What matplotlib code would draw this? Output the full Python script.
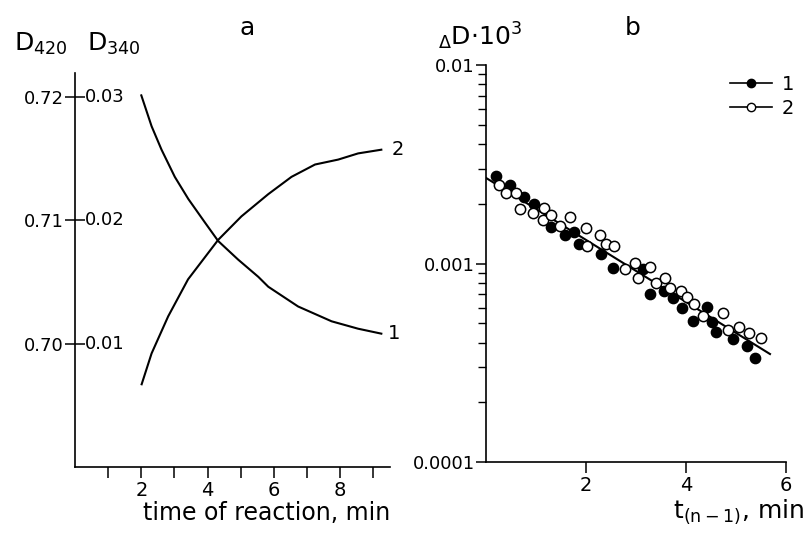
import matplotlib
matplotlib.use('Agg')
import matplotlib.pyplot as plt
from matplotlib.lines import Line2D
from matplotlib.ticker import FixedLocator, NullFormatter

plt.rcParams['font.family'] = ['DejaVu Sans']
plt.rcParams['mathtext.fontset'] = 'dejavusans'

# panel a: optical density vs time (plotted in D340 units)
t1 = [2.0, 2.31, 2.61, 3.01, 3.42, 3.92, 4.32, 4.92, 5.53, 5.83, 6.73, 7.74, 8.54, 9.24]
d1 = [0.0301, 0.0276, 0.0257, 0.0235, 0.0217, 0.0198, 0.0183, 0.0168, 0.0154, 0.0146,
      0.0130, 0.0118, 0.0112, 0.0108]
t2 = [2.01, 2.31, 2.81, 3.41, 4.32, 5.02, 5.83, 6.53, 7.24, 7.94, 8.54, 9.24]
d2 = [0.0067, 0.0092, 0.0122, 0.0152, 0.0184, 0.0203, 0.0221, 0.0235, 0.0245, 0.0249,
      0.0254, 0.0257]
ytick_pos = [0.03, 0.02, 0.01]
d420_labels = ['0.72', '0.71', '0.70']
d340_labels = ['0.03', '0.02', '0.01']

# panel b: semilog plot
x_fill = [0.20, 0.47, 0.76, 0.95, 1.29, 1.57, 1.75, 1.86, 2.29, 2.53, 3.13, 3.27, 3.55, 3.73,
          3.93, 4.15, 4.42, 4.53, 4.61, 4.94, 5.23, 5.39]
y_fill = [0.00277, 0.00248, 0.00216, 0.00200, 0.00153, 0.00139, 0.00144, 0.00126, 0.00112,
          0.000946, 0.000935, 0.000700, 0.000730, 0.000668, 0.000599, 0.000513, 0.000606,
          0.000509, 0.000453, 0.000417, 0.000384, 0.000335]
x_open = [0.26, 0.39, 0.59, 0.67, 0.94, 1.15, 1.13, 1.30, 1.48, 1.67, 1.99, 2.01, 2.27, 2.39,
          2.56, 2.77, 2.98, 3.03, 3.28, 3.39, 3.57, 3.68, 3.90, 4.03, 4.16, 4.35, 4.74, 4.85,
          5.07, 5.26, 5.51]
y_open = [0.00248, 0.00226, 0.00227, 0.00189, 0.00180, 0.00190, 0.00166, 0.00175, 0.00155,
          0.00171, 0.00151, 0.00123, 0.00139, 0.00126, 0.00122, 0.000935, 0.00101, 0.000842,
          0.000957, 0.000800, 0.000848, 0.000750, 0.000730, 0.000681, 0.000625, 0.000544,
          0.000561, 0.000462, 0.000477, 0.000448, 0.000420]
fit_x = [0.0, 5.68]
fit_y = [0.0027, 0.00035]

fig = plt.figure(figsize=(8.04, 5.34), dpi=100)
axa = fig.add_axes([0.0933, 0.1255, 0.3917, 0.7375])
axb = fig.add_axes([0.6045, 0.1348, 0.3731, 0.7434])

for ax in (axa, axb):
    ax.spines['top'].set_visible(False)
    ax.spines['right'].set_visible(False)
    for s in ('left', 'bottom'):
        ax.spines[s].set_linewidth(1.2)

# ---- panel a
axa.plot(t1, d1, color='black', lw=1.5)
axa.plot(t2, d2, color='black', lw=1.5)
axa.text(t1[-1] + 0.2, d1[-1], '1', fontsize=14, va='center', ha='left')
axa.text(t2[-1] + 0.3, d2[-1], '2', fontsize=14, va='center', ha='left')
axa.set_xlim(0, 9.5)
axa.set_ylim(0.0, 0.0319)
axa.set_xticks([2, 4, 6, 8])
axa.xaxis.set_minor_locator(FixedLocator([1, 3, 5, 7, 9]))
axa.tick_params(axis='x', which='both', direction='out', length=8, width=1.1,
                labelsize=14, pad=2)
axa.set_yticks(ytick_pos)
axa.set_yticklabels(d420_labels)
axa.tick_params(axis='y', direction='inout', length=14, width=1.1, labelsize=13, pad=1)
for yp, lab in zip(ytick_pos, d340_labels):
    axa.text(0.3, yp, lab, fontsize=13, va='center', ha='left')
axa.set_xlabel('time of reaction, min', fontsize=17, loc='right', labelpad=1)

fig.text(0.018, 0.905, r'D$_{420}$', fontsize=18)
fig.text(0.108, 0.905, r'D$_{340}$', fontsize=18)
fig.text(0.307, 0.935, 'a', fontsize=18, ha='center')

# ---- panel b
axb.scatter(x_fill, y_fill, s=55, color='black', zorder=3)
axb.scatter(x_open, y_open, s=55, facecolor='white', edgecolor='black', lw=1.1, zorder=3)
axb.plot(fit_x, fit_y, color='black', lw=1.5, zorder=2)
axb.set_yscale('log')
axb.set_ylim(0.0001, 0.01)
axb.set_xlim(0, 6)
axb.set_xticks([2, 4, 6])
axb.set_yticks([0.0001, 0.001, 0.01])
axb.set_yticklabels(['0.0001', '0.001', '0.01'])
axb.yaxis.set_minor_formatter(NullFormatter())
axb.tick_params(axis='x', direction='out', length=8, width=1.1, labelsize=14, pad=2)
axb.tick_params(axis='y', which='major', direction='out', length=7, width=1.1,
                labelsize=13, pad=1)
axb.tick_params(axis='y', which='minor', direction='out', length=6, width=1.0)
axb.set_xlabel(r'$\mathregular{t}$$_{\mathregular{(n-1)}}$, min', fontsize=18,
               loc='right', labelpad=0)
axb.xaxis.set_label_coords(1.06, -0.09)

fig.text(0.545, 0.915, r'$_{\Delta}$D$\cdot$10$^3$', fontsize=18)
fig.text(0.787, 0.935, 'b', fontsize=18, ha='center')

handles = [Line2D([], [], color='black', lw=1.2, marker='o', ms=6, mfc='black', mec='black'),
           Line2D([], [], color='black', lw=1.2, marker='o', ms=6, mfc='white', mec='black')]
fig.legend(handles, ['1', '2'], loc='upper right', bbox_to_anchor=(1.005, 0.885),
           frameon=False, fontsize=14, handlelength=2.2, handletextpad=0.5,
           labelspacing=0.25, borderpad=0.2)

plt.savefig('out.png', dpi=100)
